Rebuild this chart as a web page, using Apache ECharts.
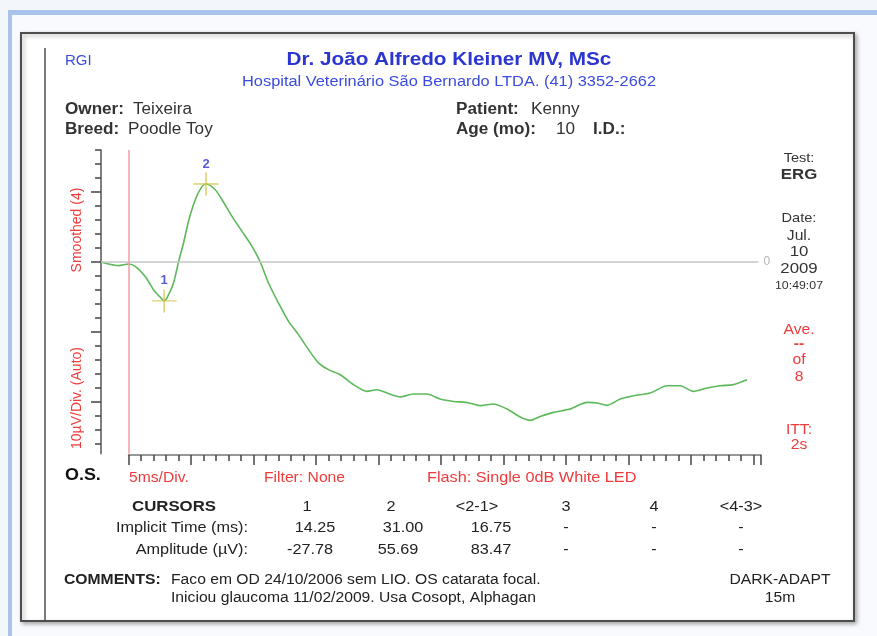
<!DOCTYPE html>
<html>
<head>
<meta charset="utf-8">
<script src="https://cdn.jsdelivr.net/npm/echarts@6/dist/echarts.min.js"></script>
<style>
html, body { margin: 0; padding: 0; background: #f3f6fb; }
#chart { width: 877px; height: 636px; }
</style>
</head>
<body>
<div id="chart"></div>
<script>
// ERG trace, time in ms (stimulus at 0) and amplitude in µV
var timeMs = [-11, -8, -4, 0, 2.7, 6.7, 10, 13.4, 14.25, 15.4, 18, 20, 22, 24, 26.7, 29.4, 31, 34.7, 37.4, 41.4,
  45.4, 49.4, 52.7, 56, 60, 64, 68, 72, 76, 80, 84.7, 90, 95.4, 99.4, 103.4, 108.7, 114, 119.4, 124.7, 130,
  135.4, 140.7, 146, 151.4, 156.7, 160.7, 164.7, 170, 176.7, 183.4, 187.4, 191.4, 196.7, 202, 208.7, 215.4,
  220.7, 226, 231.4, 236.7, 242, 247.4];
var ampUv = [0, -1.4, -2.6, -1.4, -3.1, -10.3, -19.8, -26.5, -27.78, -25.7, -15, 0, 13.6, 29.1, 44.5, 54, 55.69,
  51.6, 44.5, 32.6, 21.9, 11.2, 0, -15, -29.3, -42.4, -51.9, -62.6, -72.1, -76.9, -80.5, -87.6, -92.4, -91.2,
  -93.6, -96.4, -94.3, -94.3, -97.9, -99.6, -100.3, -102.6, -101.4, -105, -110.7, -113.1, -110.3, -107.4, -105,
  -100.3, -100.7, -102.4, -97.9, -95.5, -93.6, -88.4, -88.4, -92.4, -90, -88.4, -87.6, -84.1];

// cursors
var cursorNames = ['1', '2'];
var cursorTimes = [14.25, 31.00];
var cursorAmps = [-27.78, 55.69];

// axis ticks (10 µV/div, 5 ms/div)
var yMinorTicks = [80, 70, 60, 50, 40, 30, 20, 10, 0, -10, -20, -30, -40, -50, -60, -70, -80, -90, -100, -110, -120, -130];
var yMajorTicks = [50, 0, -50, -100];

// cursor table
var tableCols = ['1', '2', '<2-1>', '3', '4', '<4-3>'];
var implicitTimes = ['14.25', '31.00', '16.75', '-', '-', '-'];
var amplitudes = ['-27.78', '55.69', '83.47', '-', '-', '-'];

var FONT = '"Liberation Sans", Arial, sans-serif';
var DARK = '#333333';
var RED = '#ee3b3b';
var BLUE = '#2b35cf';

function txt(x, y, s, size, color, opt) {
  opt = opt || {};
  var font = (opt.bold ? 'bold ' : '') + size + 'px ' + FONT;
  return {
    type: 'text', x: x, y: y, z: 20,
    scaleX: opt.sx || 1.12,
    rotation: opt.rot || 0,
    style: {
      text: s, fill: color, font: font,
      textAlign: opt.align || 'left', textVerticalAlign: 'middle',
      align: opt.align || 'left', verticalAlign: 'middle'
    }
  };
}

var chart = echarts.init(document.getElementById('chart'));

var graphics = [
  // window / page frame
  { type: 'rect', z: -20, shape: { x: 8, y: 10, width: 869, height: 5 }, style: { fill: '#a9c4ea' } },
  { type: 'rect', z: -20, shape: { x: 8, y: 10, width: 4, height: 626 }, style: { fill: '#a9c4ea' } },
  { type: 'rect', z: -19, shape: { x: 12, y: 15, width: 865, height: 621 }, style: { fill: '#f8fafd' } },
  { type: 'rect', z: -18, shape: { x: 21, y: 33, width: 833, height: 588 },
    style: { fill: '#ffffff', stroke: '#4d4d4d', lineWidth: 2, shadowBlur: 4, shadowColor: 'rgba(0,0,0,0.3)', shadowOffsetX: 2, shadowOffsetY: 2 } },
  { type: 'line', z: -17, shape: { x1: 45, y1: 48, x2: 45, y2: 620 },
    style: { stroke: '#7a7a7a', lineWidth: 2 } },

  // header
  txt(65, 61, 'RGI', 15, '#3b4be0', { sx: 1.0 }),
  txt(449, 60, 'Dr. João Alfredo Kleiner MV, MSc', 18, BLUE, { bold: true, align: 'center', sx: 1.15 }),
  txt(449, 82, 'Hospital Veterinário São Bernardo LTDA. (41) 3352-2662', 14, '#3b4be0', { align: 'center', sx: 1.17 }),
  txt(65, 110, 'Owner:', 16, DARK, { bold: true, sx: 1.07 }),
  txt(133, 110, 'Teixeira', 16, DARK, { sx: 1.07 }),
  txt(65, 130, 'Breed:', 16, DARK, { bold: true, sx: 1.07 }),
  txt(128, 130, 'Poodle Toy', 16, DARK, { sx: 1.07 }),
  txt(456, 110, 'Patient:', 16, DARK, { bold: true, sx: 1.07 }),
  txt(531, 110, 'Kenny', 16, DARK, { sx: 1.07 }),
  txt(456, 130, 'Age (mo):', 16, DARK, { bold: true, sx: 1.07 }),
  txt(556, 130, '10', 16, DARK, { sx: 1.07 }),
  txt(593, 130, 'I.D.:', 16, DARK, { bold: true, sx: 1.07 }),

  // right column
  txt(799, 158, 'Test:', 13, DARK, { align: 'center' }),
  txt(799, 175, 'ERG', 15, DARK, { bold: true, align: 'center' }),
  txt(799, 218, 'Date:', 13, DARK, { align: 'center' }),
  txt(799, 236, 'Jul.', 14, DARK, { align: 'center' }),
  txt(799, 252, '10', 15, DARK, { align: 'center' }),
  txt(799, 269, '2009', 15, DARK, { align: 'center' }),
  txt(799, 286, '10:49:07', 11, DARK, { align: 'center' }),
  txt(799, 330, 'Ave.', 14, RED, { align: 'center' }),
  txt(799, 344, '--', 14, RED, { bold: true, align: 'center' }),
  txt(799, 360, 'of', 14, RED, { align: 'center' }),
  txt(799, 377, '8', 14, RED, { align: 'center' }),
  txt(799, 430, 'ITT:', 14, RED, { align: 'center' }),
  txt(799, 445, '2s', 14, RED, { align: 'center' }),

  // axis titles
  txt(77, 230, 'Smoothed (4)', 14, RED, { align: 'center', rot: Math.PI / 2, sx: 1.0 }),
  txt(77, 398, '10µV/Div. (Auto)', 14, RED, { align: 'center', rot: Math.PI / 2, sx: 1.0 }),

  // under the plot
  txt(65, 476, 'O.S.', 16, '#111', { bold: true }),
  txt(129, 478, '5ms/Div.', 14, RED),
  txt(264, 478, 'Filter: None', 14, RED),
  txt(427, 478, 'Flash: Single 0dB White LED', 14.5, RED),

  // table labels
  txt(174, 507, 'CURSORS', 15, '#222', { bold: true, align: 'center' }),
  txt(248, 528, 'Implicit Time (ms):', 14.5, '#222', { align: 'right' }),
  txt(248, 550, 'Amplitude (µV):', 14.5, '#222', { align: 'right' }),

  // comments
  txt(64, 580, 'COMMENTS:', 14, '#222', { bold: true }),
  txt(171, 580, 'Faco em OD 24/10/2006 sem LIO. OS catarata focal.', 14, '#222'),
  txt(171, 598, 'Iniciou glaucoma 11/02/2009. Usa Cosopt, Alphagan', 14, '#222'),
  txt(780, 580, 'DARK-ADAPT', 14, '#222', { align: 'center' }),
  txt(780, 598, '15m', 14, '#222', { align: 'center' })
];

var headX = [307, 391, 477, 566, 654, 741];
var row1X = [315, 403, 491, 566, 654, 741];
var row2X = [310, 398, 491, 566, 654, 741];
tableCols.forEach(function (c, i) {
  graphics.push(txt(headX[i], 507, c, 14.5, '#222', { align: 'center' }));
  graphics.push(txt(row1X[i], 528, implicitTimes[i], 14.5, '#222', { align: 'center' }));
  graphics.push(txt(row2X[i], 550, amplitudes[i], 14.5, '#222', { align: 'center' }));
});

var tickStyle = { color: '#444', width: 1.5 };

var option = {
  backgroundColor: '#f3f6fb',
  animation: false,
  grid: [
    { left: 101, top: 150, width: 657.5, height: 303.8 },
    { left: 128.5, top: 150, width: 632.5, height: 305 }
  ],
  xAxis: [
    { gridIndex: 0, type: 'value', min: -11, max: 252, show: false },
    {
      gridIndex: 1, type: 'value', min: 0, max: 253, interval: 25,
      axisLine: { show: true, lineStyle: { color: '#777', width: 1.5 } },
      axisTick: { show: true, length: 10, lineStyle: tickStyle },
      minorTick: { show: true, splitNumber: 5, length: 6, lineStyle: tickStyle },
      axisLabel: { show: false },
      splitLine: { show: false }
    }
  ],
  yAxis: [
    {
      gridIndex: 0, type: 'value', min: -137, max: 80,
      axisLine: { show: true, onZero: false, lineStyle: { color: '#555', width: 1.5 } },
      axisTick: { show: true, customValues: yMinorTicks, length: 6, lineStyle: tickStyle },
      axisLabel: { show: false },
      splitLine: { show: false }
    },
    {
      gridIndex: 0, type: 'value', min: -137, max: 80, position: 'left',
      axisLine: { show: false, onZero: false },
      axisTick: { show: true, customValues: yMajorTicks, length: 10, lineStyle: tickStyle },
      axisLabel: { show: false },
      splitLine: { show: false }
    },
    { gridIndex: 1, type: 'value', min: 0, max: 1, show: false }
  ],
  graphic: graphics,
  series: [
    {
      type: 'line',
      xAxisIndex: 0, yAxisIndex: 0,
      data: timeMs.map(function (t, i) { return [t, ampUv[i]]; }),
      showSymbol: false,
      smooth: 0.25,
      lineStyle: { color: '#5db85a', width: 1.6 },
      z: 3,
      markLine: {
        silent: true,
        symbol: 'none',
        animation: false,
        data: [
          { yAxis: 0, lineStyle: { color: '#c6c6c6', width: 1.5, type: 'solid' },
            label: { show: true, position: 'end', formatter: '0', color: '#b5b5b5', fontSize: 12, fontFamily: FONT } },
          { xAxis: 0, lineStyle: { color: '#f29ca3', width: 1.5, type: 'solid' }, label: { show: false } }
        ]
      }
    },
    {
      type: 'scatter',
      xAxisIndex: 0, yAxisIndex: 0,
      data: cursorTimes.map(function (t, i) { return [t, cursorAmps[i]]; }),
      symbol: 'path://M11.25,0h1.5v11.25h11.25v1.5h-11.25v11.25h-1.5v-11.25h-11.25v-1.5h11.25z',
      symbolSize: [25, 23],
      itemStyle: { color: '#d6c64c' },
      z: 4,
      label: {
        show: true, position: 'top', distance: 2,
        formatter: function (p) { return cursorNames[p.dataIndex]; },
        color: BLUE, fontWeight: 'bold', fontSize: 13, fontFamily: FONT
      }
    }
  ]
};

chart.setOption(option);
</script>
</body>
</html>
